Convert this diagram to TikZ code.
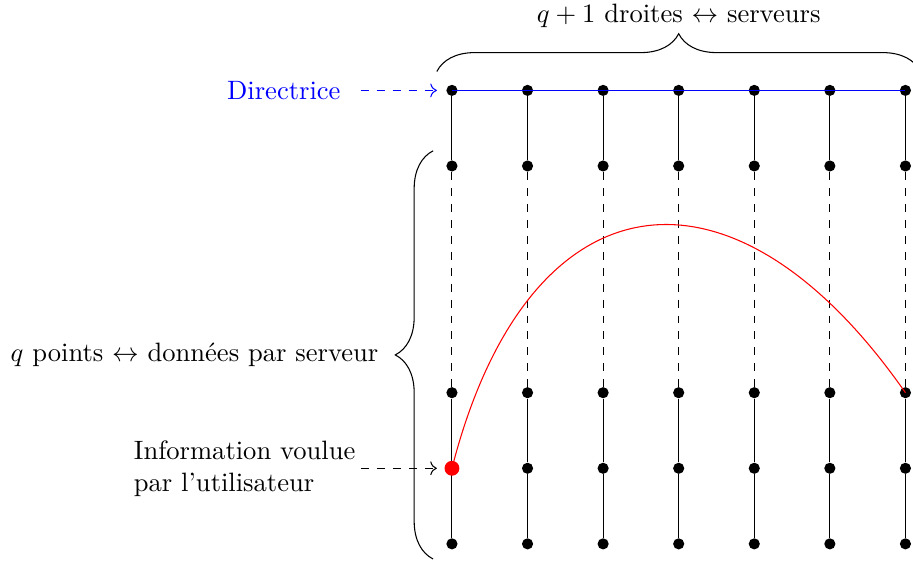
\documentclass[tikz,border=0pt]{standalone}
\usepackage{fontspec}
\usepackage{tikz}
\usetikzlibrary{
  arrows.meta,
  positioning,
  decorations.pathreplacing
}

\begin{document}
\begin{tikzpicture}[
  pt/.style={circle, fill=black, inner sep=0pt, minimum size=4.2pt},
  ptred/.style={circle, fill=red, inner sep=0pt, minimum size=5.6pt},
  accolade/.style={decorate, decoration={brace, amplitude=0.5cm}},
  fleche/.style={->, dashed}
]
  \useasboundingbox (-5.98,-0.225) rectangle (6.1,7.196);

  % Les q+1 droites (colonnes), q points chacune
  \foreach \i in {0,...,6}{
    \foreach \j in {0,1,2,5,6}
      \node[pt] (p\i-\j) at (\i,\j) {};
    \draw (p\i-6) -- (p\i-5);
    \draw[dashed] (p\i-5) -- (p\i-2);
    \draw (p\i-2) -- (p\i-1) -- (p\i-0);
  }
  \draw[blue] (p0-6.center) -- (p6-6.center);

  % Courbe passant par le point voulu
  \node[ptred] (cible) at (p0-1) {};
  \draw[red] (cible.center) .. controls (1,4.9) and (3.7,5.3) .. (p6-2.center);

  % Accolades
  \draw[accolade] (-0.2,6.25) -- (6.2,6.25)
    node[midway, above=0.45cm] (haut) {$q+1$ droites $\leftrightarrow$ serveurs};
  \draw[accolade] (-0.25,-0.2) -- (-0.25,5.2)
    node[midway, left=0.6cm] (gauche) {$q$ points $\leftrightarrow$ données par serveur};

  % Etiquettes
  \node[left, text=blue] (dir) at (-1.35,6) {Directrice};
  \draw[fleche, blue, shorten <=0.15cm, shorten >=0.2cm] (dir.east) -- (p0-6.center);
  \node[left, align=left, inner sep=2pt] (info) at (-1.2,1)
    {Information voulue\\par l'utilisateur};
  \draw[fleche, shorten >=0.2cm] (info.east) -- (cible.center);
\end{tikzpicture}
\end{document}
